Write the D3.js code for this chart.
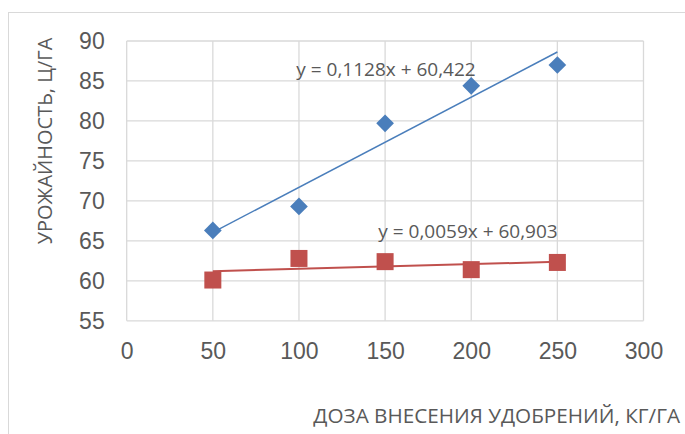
<!DOCTYPE html>
<html><head><meta charset="utf-8">
<script src="https://cdn.jsdelivr.net/npm/d3@7"></script>
<style>
html,body{margin:0;padding:0;background:#fff;}
svg{display:block;font-family:"Liberation Sans Narrow","Open Sans",sans-serif;}
</style></head>
<body><svg id="c" width="685" height="434"></svg>
<script>
const doses = [50, 100, 150, 200, 250];
const seriesA = [66.3, 69.3, 79.7, 84.4, 87.0];
const seriesB = [60.1, 62.8, 62.4, 61.4, 62.3];
const trendSlopes = [0.1128, 0.0059];
const trendIntercepts = [60.422, 60.903];
const trendLabels = ["y = 0,1128x + 60,422", "y = 0,0059x + 60,903"];
const xTicks = [0, 50, 100, 150, 200, 250, 300];
const yTicks = [55, 60, 65, 70, 75, 80, 85, 90];
const xTitle = "ДОЗА ВНЕСЕНИЯ УДОБРЕНИЙ, КГ/ГА";
const yTitle = "УРОЖАЙНОСТЬ, Ц/ГА";

const svg = d3.select("#c");
const x = d3.scaleLinear().domain([0, 300]).range([126.7, 643.5]);
const y = d3.scaleLinear().domain([55, 90]).range([320.8, 41]);
const grid = "#d9d9d9", txt = "#595959";
const blue = "#4a7ebb", red = "#c0504d";

// outer chart border
svg.append("rect").attr("x", 8.5).attr("y", 12.5).attr("width", 700).attr("height", 450)
  .attr("fill", "none").attr("stroke", grid).attr("stroke-width", 1);

// gridlines
svg.append("g").selectAll("line").data(yTicks).join("line")
  .attr("x1", x(0)).attr("x2", x(300)).attr("y1", d => y(d)).attr("y2", d => y(d))
  .attr("stroke", grid).attr("stroke-width", 1.3);
svg.append("g").selectAll("line").data(xTicks).join("line")
  .attr("y1", y(55)).attr("y2", y(90)).attr("x1", d => x(d)).attr("x2", d => x(d))
  .attr("stroke", grid).attr("stroke-width", 1.3);

// axes labels via d3 axes
const xAxis = svg.append("g").attr("transform", `translate(0,${y(55)})`)
  .call(d3.axisBottom(x).tickValues(xTicks).tickSize(0).tickPadding(22));
xAxis.select(".domain").remove();
xAxis.selectAll("text").attr("fill", txt).attr("font-size", 23).attr("font-family", null);
const yAxis = svg.append("g").attr("transform", `translate(${x(0)},0)`)
  .call(d3.axisLeft(y).tickValues(yTicks).tickSize(0).tickPadding(22));
yAxis.select(".domain").remove();
yAxis.selectAll("text").attr("fill", txt).attr("font-size", 23).attr("font-family", null);

// trendlines
const trendColors = [blue, red];
const trendWidths = [1.5, 2];
trendSlopes.forEach((m, i) => {
  svg.append("line")
    .attr("x1", x(doses[0])).attr("y1", y(m * doses[0] + trendIntercepts[i]))
    .attr("x2", x(doses[doses.length - 1])).attr("y2", y(m * doses[doses.length - 1] + trendIntercepts[i]))
    .attr("stroke", trendColors[i]).attr("stroke-width", trendWidths[i]);
});

// markers
svg.append("g").selectAll("path").data(doses).join("path")
  .attr("transform", (d, i) => `translate(${x(d)},${y(seriesA[i])})`)
  .attr("d", d3.symbol().type(d3.symbolDiamond2).size(200))
  .attr("fill", blue);
svg.append("g").selectAll("rect").data(doses).join("rect")
  .attr("x", d => x(d) - 8.5).attr("y", (d, i) => y(seriesB[i]) - 8.5)
  .attr("width", 17).attr("height", 17).attr("fill", red);

// equation labels
svg.append("text").attr("x", 386).attr("y", 76).attr("text-anchor", "middle")
  .attr("fill", txt).attr("font-size", 19).text(trendLabels[0]);
svg.append("text").attr("x", 468).attr("y", 238).attr("text-anchor", "middle")
  .attr("fill", txt).attr("font-size", 19).text(trendLabels[1]);

// axis titles
svg.append("text").attr("x", 680).attr("y", 423).attr("text-anchor", "end")
  .attr("fill", txt).attr("font-size", 20.7).text(xTitle);
svg.append("text").attr("transform", "translate(52,141) rotate(-90)").attr("text-anchor", "middle")
  .attr("fill", txt).attr("font-size", 20).text(yTitle);
</script></body></html>
